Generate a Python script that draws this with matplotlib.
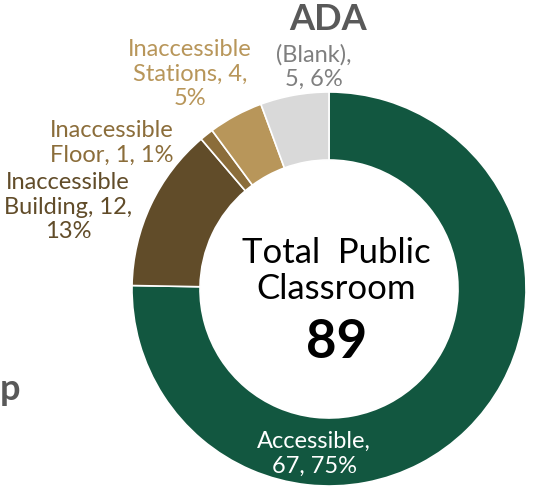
import matplotlib.pyplot as plt

# donut data (clockwise from 12 o'clock)
labels = ["Accessible", "Inaccessible Building", "Inaccessible Floor",
          "Inaccessible Stations", "(Blank)"]
counts = [67, 12, 1, 4, 5]
pct_labels = [75, 13, 1, 5, 6]   # as printed on the chart
colors = ["#125740", "#614c29", "#8b6d3a", "#b8965a", "#d9d9d9"]
total = sum(counts)

W, H = 535, 491
fig = plt.figure(figsize=(W / 100, H / 100), dpi=100)
ax = fig.add_axes([0, 0, 1, 1])

cx, cy, R = 329, H - 289, 197
ax.pie(counts, colors=colors, startangle=90, counterclock=False,
       center=(cx, cy), radius=R,
       wedgeprops=dict(width=68, edgecolor="white", linewidth=1.2))
ax.set_xlim(0, W)
ax.set_ylim(0, H)
ax.set_aspect("equal")
ax.axis("off")

font = ["Lato", "DejaVu Sans"]


def y(px):
    return H - px


lbl = dict(fontsize=17, family=font, ha="center", va="center", linespacing=1.2)

# slice labels
ax.text(190, y(74), f"Inaccessible\nStations, {counts[3]},\n{pct_labels[3]}%",
        color=colors[3], **lbl)
ax.text(314, y(67), f"(Blank),\n{counts[4]}, {pct_labels[4]}%",
        color="#7f7f7f", **lbl)
ax.text(112, y(143), f"Inaccessible\nFloor, {counts[2]}, {pct_labels[2]}%",
        color=colors[2], **lbl)
ax.text(68, y(207), f"Inaccessible\nBuilding, {counts[1]},\n{pct_labels[1]}%",
        color=colors[1], **lbl)
ax.text(314, y(454), f"Accessible,\n{counts[0]}, {pct_labels[0]}%",
        color="white", **lbl)

# titles / fragments
ax.text(328, y(19), "ADA", color="#595959", fontsize=26, fontweight="bold",
        family=font, ha="center", va="center")
ax.text(0, y(390), "p", color="#595959", fontsize=26, fontweight="bold",
        family=font, ha="left", va="center")

# center text
ax.text(336, y(271), "Total  Public\nClassroom", color="black", fontsize=25,
        family=font, ha="center", va="center", linespacing=1.12)
ax.text(337, y(342), str(total), color="black", fontsize=38,
        fontweight="bold", family=font, ha="center", va="center")

fig.savefig("out.png", dpi=100, facecolor="white")
